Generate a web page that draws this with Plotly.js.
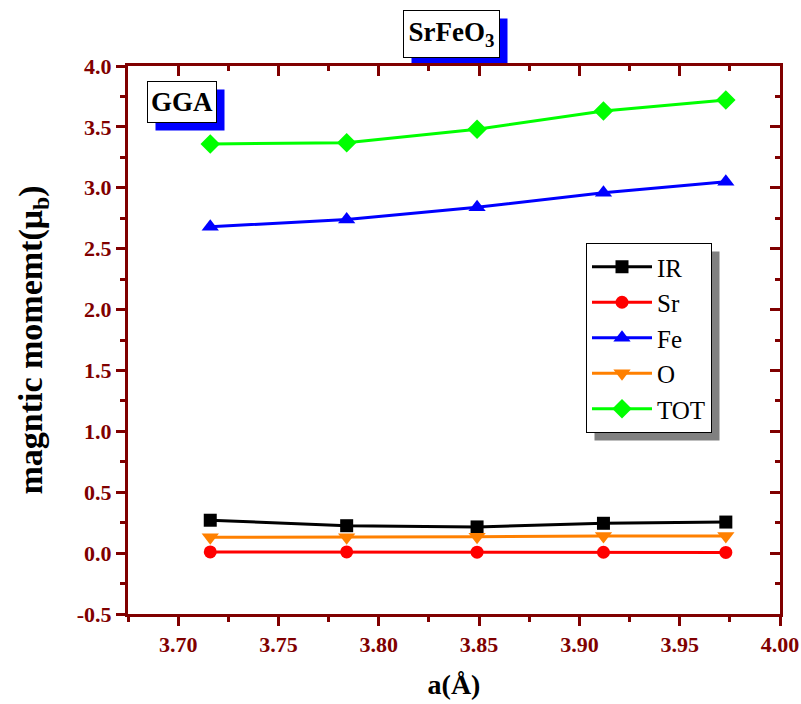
<!DOCTYPE html>
<html>
<head>
<meta charset="utf-8">
<script src="https://cdn.plot.ly/plotly-3.0.1.min.js"></script>
<style>html,body{margin:0;padding:0;background:#fff;}#chart{width:801px;height:704px;}</style>
</head>
<body>
<div id="chart"></div>
<script>
// Data
const latticeA = [3.716, 3.784, 3.849, 3.912, 3.973];
const seriesNames = ["IR", "Sr", "Fe", "O", "TOT"];
const momentIR  = [0.27, 0.225, 0.215, 0.245, 0.255];
const momentSr  = [0.01, 0.01, 0.008, 0.007, 0.006];
const momentFe  = [2.68, 2.74, 2.84, 2.96, 3.05];
const momentO   = [0.13, 0.13, 0.135, 0.14, 0.14];
const momentTOT = [3.36, 3.37, 3.48, 3.63, 3.72];
const xTicks = [3.70, 3.75, 3.80, 3.85, 3.90, 3.95, 4.00];
const yTicks = [-0.5, 0.0, 0.5, 1.0, 1.5, 2.0, 2.5, 3.0, 3.5, 4.0];

const seriesValues = [momentIR, momentSr, momentFe, momentO, momentTOT];
const colors = ["#000000", "#FF0000", "#0000FF", "#FF8000", "#00FF00"];
const symbols = ["square", "circle", "triangle-up", "triangle-down", "diamond"];
const sizes = [13, 13, 15, 15, 15];

const traces = seriesNames.map((n, i) => ({
  type: "scatter", mode: "lines+markers", name: n,
  x: latticeA, y: seriesValues[i],
  line: {color: colors[i], width: 3},
  marker: {color: colors[i], symbol: symbols[i], size: sizes[i]}
}));
traces.push({type: "scatter", x: [], y: [], xaxis: "x2", yaxis: "y2", showlegend: false, hoverinfo: "skip"});

const axisColor = "#800000";
const serif = "Liberation Serif, Times New Roman, serif";
const xRange = [3.675, 4.0];
const yRange = [-0.5, 4.0];
const M = {l: 128, r: 21, t: 66, b: 90};
const W = 801, H = 704;
const pw = W - M.l - M.r, ph = H - M.t - M.b;

const layout = {
  width: W, height: H,
  margin: M,
  paper_bgcolor: "#fff", plot_bgcolor: "#fff",
  showlegend: true,
  xaxis: {
    range: xRange, tickvals: xTicks, ticktext: xTicks.map(v => v.toFixed(2)),
    showgrid: false, zeroline: false, showline: true, linecolor: axisColor, linewidth: 3, mirror: true,
    ticks: "outside", ticklen: 9, tickwidth: 3, tickcolor: axisColor,
    minor: {dtick: 0.025, tick0: 3.7, ticks: "outside", ticklen: 5, tickwidth: 3, tickcolor: axisColor, showgrid: false},
    tickfont: {family: serif, size: 22, color: axisColor, weight: "bold"},
    title: {text: "<b>a(Å)</b>", font: {family: serif, size: 28, color: "#000"}, standoff: 18}
  },
  yaxis: {
    range: yRange, tickvals: yTicks, ticktext: yTicks.map(v => v.toFixed(1)),
    showgrid: false, zeroline: false, showline: true, linecolor: axisColor, linewidth: 3, mirror: true,
    ticks: "outside", ticklen: 9, tickwidth: 3, tickcolor: axisColor,
    minor: {dtick: 0.25, tick0: 0, ticks: "outside", ticklen: 5, tickwidth: 3, tickcolor: axisColor, showgrid: false},
    tickfont: {family: serif, size: 22, color: axisColor, weight: "bold"},
    title: {text: "<b>magntic momemt(μ<sub>b</sub>)</b>", font: {family: serif, size: 34, color: "#000"}, standoff: 24}
  },
  xaxis2: {
    overlaying: "x", side: "top", range: xRange, tickvals: xTicks, showticklabels: false,
    showgrid: false, zeroline: false, showline: false,
    ticks: "inside", ticklen: 10, tickwidth: 3, tickcolor: axisColor,
    minor: {dtick: 0.025, tick0: 3.7, ticks: "inside", ticklen: 5, tickwidth: 3, tickcolor: axisColor, showgrid: false}
  },
  yaxis2: {
    overlaying: "y", side: "right", range: yRange, tickvals: yTicks, showticklabels: false,
    showgrid: false, zeroline: false, showline: false,
    ticks: "inside", ticklen: 10, tickwidth: 3, tickcolor: axisColor,
    minor: {dtick: 0.25, tick0: 0, ticks: "inside", ticklen: 5, tickwidth: 3, tickcolor: axisColor, showgrid: false}
  },
  legend: {
    x: (586 - M.l) / pw, y: (H - M.b - 243) / ph, xanchor: "left", yanchor: "top",
    bgcolor: "#fff", bordercolor: "#000", borderwidth: 1,
    font: {family: serif, size: 25, color: "#000"},
    itemwidth: 60
  },
  shapes: [],
  annotations: [
    {xref: "paper", yref: "paper", x: (451 - M.l) / pw, y: (H - M.b - 34) / ph, xanchor: "center", yanchor: "middle",
     text: "<b>SrFeO<sub>3</sub></b>", showarrow: false, width: 95, height: 46,
     bgcolor: "#fff", bordercolor: "#000", borderwidth: 1, borderpad: 0,
     font: {family: serif, size: 27, color: "#000"}},
    {xref: "paper", yref: "paper", x: (182 - M.l) / pw, y: (H - M.b - 102) / ph, xanchor: "center", yanchor: "middle",
     text: "<b>GGA</b>", showarrow: false, width: 68, height: 40,
     bgcolor: "#fff", bordercolor: "#000", borderwidth: 1, borderpad: 0,
     font: {family: serif, size: 27, color: "#000"}}
  ]
};

function shadowFor(el, color) {
  const root = document.getElementById("chart").getBoundingClientRect();
  const r = el.getBoundingClientRect();
  const left = r.left - root.left + 8, right = r.right - root.left + 8;
  const top = r.top - root.top + 8, bottom = r.bottom - root.top + 8;
  return {type: "rect", xref: "paper", yref: "paper", layer: "below",
    x0: (left - M.l) / pw, x1: (right - M.l) / pw,
    y0: (H - M.b - bottom) / ph, y1: (H - M.b - top) / ph,
    fillcolor: color, line: {width: 0}};
}

Plotly.newPlot("chart", traces, layout, {displayModeBar: false, staticPlot: true}).then(gd => {
  const shapes = [];
  const leg = gd.querySelector(".legend .bg");
  if (leg) shapes.push(shadowFor(leg, "#808080"));
  const anns = gd.querySelectorAll(".annotation .bg");
  anns.forEach(a => shapes.push(shadowFor(a, "#0000FF")));
  return Plotly.relayout(gd, {shapes: shapes});
});
</script>
</body>
</html>
